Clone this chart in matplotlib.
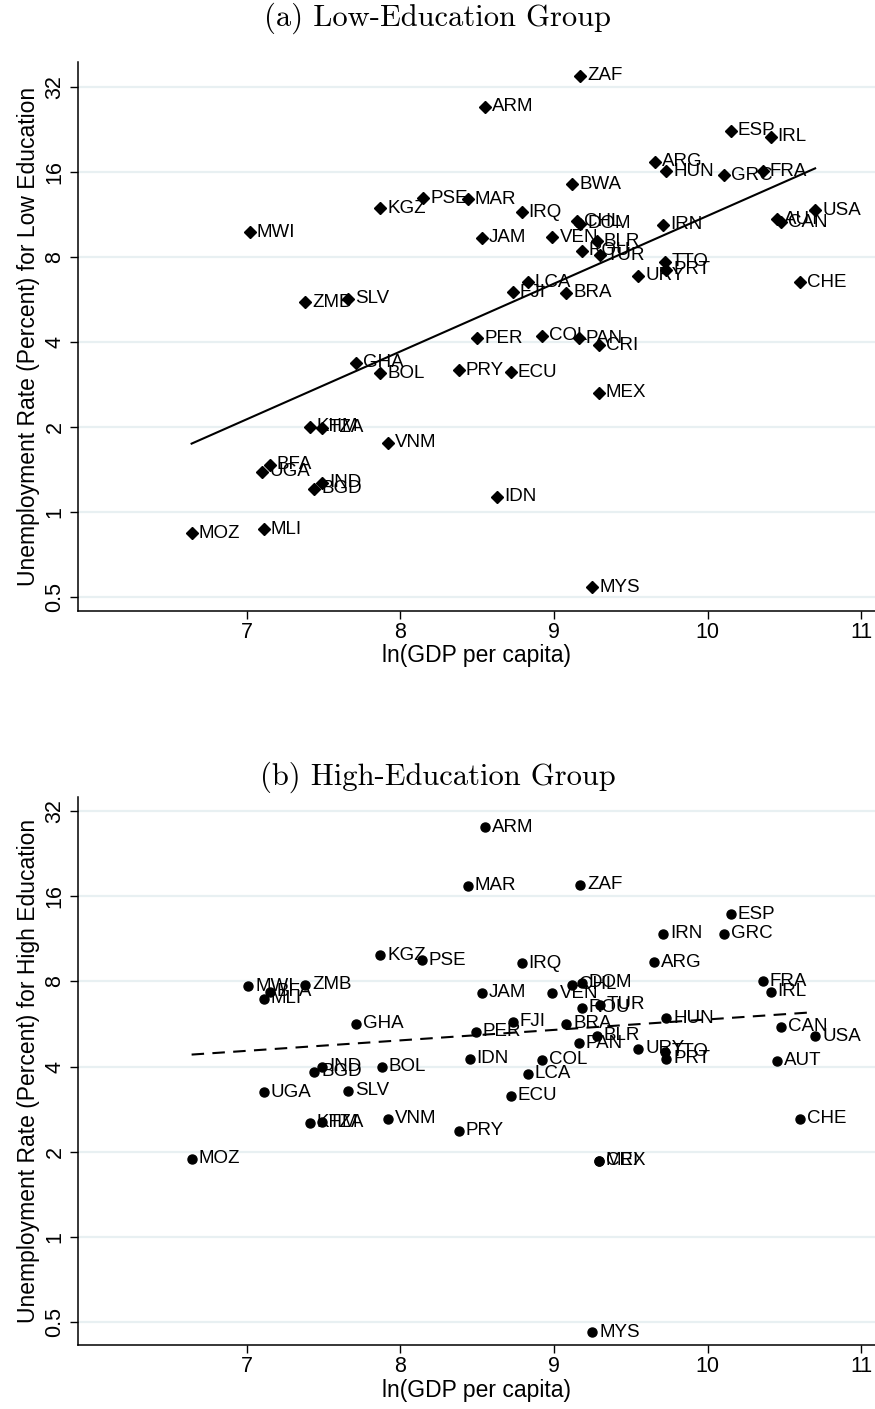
import numpy as np
import matplotlib
matplotlib.use('Agg')
import matplotlib.pyplot as plt

# panel (a): low education
low_codes = ['ZAF', 'ARM', 'ESP', 'IRL', 'ARG', 'HUN', 'GRC', 'FRA', 'BWA', 'PSE',
             'MAR', 'KGZ', 'IRQ', 'MWI', 'CHL', 'DOM', 'IRN', 'AUT', 'CAN', 'USA',
             'JAM', 'VEN', 'BLR', 'ROU', 'TUR', 'TTO', 'PRT', 'URY', 'CHE', 'LCA',
             'FJI', 'BRA', 'ZMB', 'SLV', 'PER', 'COL', 'PAN', 'CRI', 'GHA', 'BOL',
             'PRY', 'ECU', 'MEX', 'KHM', 'TZA', 'VNM', 'BFA', 'UGA', 'IND', 'BGD',
             'IDN', 'MOZ', 'MLI', 'MYS']
low_gdp = [9.17, 8.55, 10.15, 10.41, 9.66, 9.73, 10.11, 10.36, 9.12, 8.15,
           8.44, 7.87, 8.79, 7.02, 9.15, 9.17, 9.71, 10.45, 10.48, 10.70,
           8.53, 8.99, 9.28, 9.18, 9.30, 9.72, 9.73, 9.55, 10.60, 8.83,
           8.73, 9.08, 7.38, 7.66, 8.50, 8.92, 9.16, 9.29, 7.71, 7.87,
           8.38, 8.72, 9.29, 7.41, 7.49, 7.92, 7.15, 7.10, 7.49, 7.44,
           8.63, 6.64, 7.11, 9.25]
low_unemp = [35.0, 27.2, 22.4, 21.3, 17.4, 16.1, 15.6, 16.1, 14.5, 12.9,
             12.8, 11.9, 11.5, 9.8, 10.7, 10.5, 10.4, 10.9, 10.6, 11.7,
             9.35, 9.4, 9.1, 8.4, 8.1, 7.7, 7.2, 6.85, 6.5, 6.5,
             6.0, 5.97, 5.54, 5.68, 4.13, 4.2, 4.13, 3.9, 3.37, 3.1,
             3.18, 3.13, 2.64, 2.0, 1.99, 1.76, 1.47, 1.39, 1.27, 1.21,
             1.13, 0.84, 0.87, 0.54]

# panel (b): high education
high_codes = ['ARM', 'MAR', 'ZAF', 'ESP', 'IRN', 'GRC', 'KGZ', 'PSE', 'IRQ', 'ARG',
              'MWI', 'ZMB', 'BFA', 'MLI', 'CHL', 'DOM', 'FRA', 'IRL', 'JAM', 'VEN',
              'TUR', 'ROU', 'GHA', 'FJI', 'BRA', 'HUN', 'CAN', 'USA', 'PER', 'BLR',
              'PAN', 'URY', 'TTO', 'PRT', 'AUT', 'IDN', 'COL', 'IND', 'BGD', 'BOL',
              'LCA', 'UGA', 'SLV', 'ECU', 'KHM', 'TZA', 'VNM', 'CHE', 'PRY', 'MOZ',
              'CRI', 'MEX', 'MYS']
high_gdp = [8.55, 8.44, 9.17, 10.15, 9.71, 10.11, 7.87, 8.14, 8.79, 9.65,
            7.01, 7.38, 7.15, 7.11, 9.12, 9.18, 10.36, 10.41, 8.53, 8.99,
            9.30, 9.18, 7.71, 8.73, 9.08, 9.73, 10.48, 10.70, 8.49, 9.28,
            9.16, 9.55, 9.72, 9.73, 10.45, 8.45, 8.92, 7.49, 7.44, 7.88,
            8.83, 7.11, 7.66, 8.72, 7.41, 7.49, 7.92, 10.60, 8.38, 6.64,
            9.29, 9.29, 9.25]
high_unemp = [28.1, 17.4, 17.6, 13.8, 11.8, 11.8, 9.9, 9.5, 9.27, 9.35,
              7.68, 7.8, 7.37, 6.96, 7.8, 7.9, 8.0, 7.37, 7.3, 7.26,
              6.63, 6.47, 5.68, 5.77, 5.68, 5.92, 5.54, 5.11, 5.32, 5.15,
              4.83, 4.63, 4.52, 4.27, 4.2, 4.27, 4.23, 4.0, 3.84, 4.0,
              3.78, 3.24, 3.28, 3.16, 2.53, 2.54, 2.62, 2.62, 2.37, 1.89,
              1.86, 1.86, 0.46]

yticks = [0.5, 1, 2, 4, 8, 16, 32]
ytick_labels = ['0.5', '1', '2', '4', '8', '16', '32']
xticks = [7, 8, 9, 10, 11]

plt.rcParams['font.family'] = ['Liberation Sans', 'DejaVu Sans']
grid_col = '#e8f0f2'

fig = plt.figure(figsize=(8.75, 14.09), dpi=100)


def panel(rect, codes, gdp, unemp, marker, ms, ls, ylabel, ylim):
    ax = fig.add_axes(rect)
    gdp = np.array(gdp)
    unemp = np.array(unemp)
    ax.set_yscale('log', base=2)
    for y in yticks:
        ax.axhline(y, color=grid_col, lw=1.6, zorder=0)
    ax.plot(gdp, unemp, ls='none', marker=marker, ms=ms, color='black', zorder=3)
    for c, x, y in zip(codes, gdp, unemp):
        ax.annotate(c, (x, y), xytext=(5, 0), textcoords='offset points',
                    va='center', ha='left', fontsize=13.5, zorder=4)
    # fitted line in log space
    b, a = np.polyfit(gdp, np.log(unemp), 1)
    xs = np.array([gdp.min(), gdp.max()])
    ax.plot(xs, np.exp(a + b * xs), color='black', lw=1.5, ls=ls,
            dashes=(6, 4) if ls == '--' else (None, None), zorder=2)
    ax.set_xlim(5.9, 11.09)
    ax.set_ylim(*ylim)
    ax.set_yticks(yticks)
    ax.set_yticklabels(ytick_labels, rotation=90, va='center')
    ax.yaxis.set_minor_locator(matplotlib.ticker.NullLocator())
    ax.set_xticks(xticks)
    ax.set_xticklabels([str(t) for t in xticks])
    ax.tick_params(axis='both', direction='out', length=6, width=1,
                   labelsize=15.5, color='black')
    ax.tick_params(axis='y', pad=3)
    ax.tick_params(axis='x', pad=2)
    for s in ['top', 'right']:
        ax.spines[s].set_visible(False)
    for s in ['left', 'bottom']:
        ax.spines[s].set_linewidth(1.1)
    ax.set_xlabel('ln(GDP per capita)', fontsize=16.5, labelpad=1)
    ax.set_ylabel(ylabel, fontsize=16.5, labelpad=3)
    return ax


panel([0.0891, 0.5664, 0.9109, 0.3896], low_codes, low_gdp, low_unemp,
      'D', 6.5, '-', 'Unemployment Rate (Percent) for Low Education',
      (2 ** -1.165, 2 ** 5.294))
panel([0.0891, 0.0454, 0.9109, 0.3889], high_codes, high_gdp, high_unemp,
      'o', 6.5, '--', 'Unemployment Rate (Percent) for High Education',
      (2 ** -1.27, 2 ** 5.165))

fig.text(0.5, 1 - 18 / 1409, '(a) Low-Education Group', family='cmr10',
         fontsize=22, ha='center', va='center')
fig.text(0.5, 1 - 777 / 1409, '(b) High-Education Group', family='cmr10',
         fontsize=22, ha='center', va='center')

fig.savefig('out.png', dpi=100)
